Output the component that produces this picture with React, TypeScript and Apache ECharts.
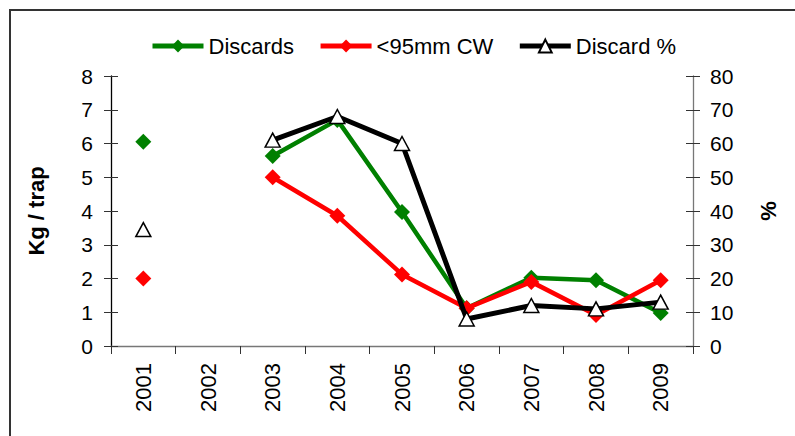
import React, { useEffect, useRef } from "react";
import * as echarts from "echarts";

const years = ["2001", "2002", "2003", "2004", "2005", "2006", "2007", "2008", "2009"];
const discards = [6.05, null, 5.63, 6.7, 3.97, 1.12, 2.02, 1.95, 0.98];
const under95 = [2.0, null, 5.0, 3.86, 2.12, 1.12, 1.9, 0.92, 1.95];
const discardPct = [34.5, null, 61, 68, 60, 8, 12, 11, 13];
const leftTicks = [0, 8, 1];
const rightTicks = [0, 80, 10];

export default function App() {
  const ref = useRef<HTMLDivElement>(null);
  useEffect(() => {
    document.body.style.margin = "0";
    const chart = echarts.init(ref.current!, null, { renderer: "svg" });
    const font = "Liberation Sans, Arial, sans-serif";
    const axisLineGray = { lineStyle: { color: "#777", width: 1.3 } };
    chart.setOption({
      animation: false,
      backgroundColor: "#fff",
      textStyle: { fontFamily: font },
      graphic: [
        {
          type: "rect",
          shape: { x: 10, y: 10, width: 800, height: 500 },
          style: { fill: "none", stroke: "#333", lineWidth: 2 },
          silent: true,
        },
      ],
      legend: {
        top: 35,
        left: 150,
        padding: 0,
        itemWidth: 51,
        itemHeight: 16,
        itemGap: 24,
        lineStyle: { width: 5 },
        textStyle: { fontSize: 22, color: "#000", fontFamily: font },
        data: ["Discards", "<95mm CW", "Discard %"],
      },
      grid: { left: 111, right: 102, top: 76, bottom: 90, containLabel: false },
      xAxis: {
        type: "category",
        data: years,
        boundaryGap: true,
        axisLine: axisLineGray,
        axisTick: { show: true, length: 8, lineStyle: { color: "#333" } },
        axisLabel: { rotate: 90, fontSize: 22, color: "#000", margin: 17, fontFamily: font },
      },
      yAxis: [
        {
          type: "value",
          min: leftTicks[0],
          max: leftTicks[1],
          interval: leftTicks[2],
          name: "Kg / trap",
          nameLocation: "middle",
          nameGap: 64,
          nameRotate: 90,
          nameTextStyle: { fontSize: 22, fontWeight: "bold", color: "#000", fontFamily: font },
          axisLine: { show: true, lineStyle: { color: "#000", width: 1.3 } },
          axisTick: { show: true, length: 7, lineStyle: { color: "#333" } },
          axisLabel: { fontSize: 21, color: "#000", margin: 18, fontFamily: font },
          splitLine: { show: false },
        },
        {
          type: "value",
          position: "right",
          min: rightTicks[0],
          max: rightTicks[1],
          interval: rightTicks[2],
          name: "%",
          nameLocation: "middle",
          nameGap: 64,
          nameRotate: 90,
          nameTextStyle: { fontSize: 22, fontWeight: "bold", color: "#000", fontFamily: font },
          axisLine: { show: true, ...axisLineGray },
          axisTick: { show: true, length: 7, lineStyle: { color: "#333" } },
          axisLabel: { fontSize: 21, color: "#000", margin: 17, fontFamily: font },
          splitLine: { show: false },
        },
        {
          type: "value",
          position: "left",
          min: leftTicks[0],
          max: leftTicks[1],
          interval: leftTicks[2],
          axisLine: { show: false },
          axisTick: { show: true, inside: true, length: 7, lineStyle: { color: "#333" } },
          axisLabel: { show: false },
          splitLine: { show: false },
        },
        {
          type: "value",
          position: "right",
          min: rightTicks[0],
          max: rightTicks[1],
          interval: rightTicks[2],
          axisLine: { show: false },
          axisTick: { show: true, inside: true, length: 7, lineStyle: { color: "#333" } },
          axisLabel: { show: false },
          splitLine: { show: false },
        },
      ],
      series: [
        {
          name: "Discards",
          type: "line",
          yAxisIndex: 0,
          data: discards,
          connectNulls: false,
          symbol: "diamond",
          symbolSize: [16, 16],
          itemStyle: { color: "#008000" },
          lineStyle: { color: "#008000", width: 4.5 },
          z: 2,
        },
        {
          name: "<95mm CW",
          type: "line",
          yAxisIndex: 0,
          data: under95,
          connectNulls: false,
          symbol: "diamond",
          symbolSize: [16, 16],
          itemStyle: { color: "#ff0000" },
          lineStyle: { color: "#ff0000", width: 4.5 },
          z: 3,
        },
        {
          name: "Discard %",
          type: "line",
          yAxisIndex: 1,
          data: discardPct,
          connectNulls: false,
          symbol: "triangle",
          symbolSize: [15, 14],
          itemStyle: { color: "#fff", borderColor: "#000", borderWidth: 1.5 },
          lineStyle: { color: "#000", width: 5 },
          z: 4,
        },
      ],
    });
    return () => chart.dispose();
  }, []);
  return <div ref={ref} style={{ width: 795, height: 436 }} />;
}
